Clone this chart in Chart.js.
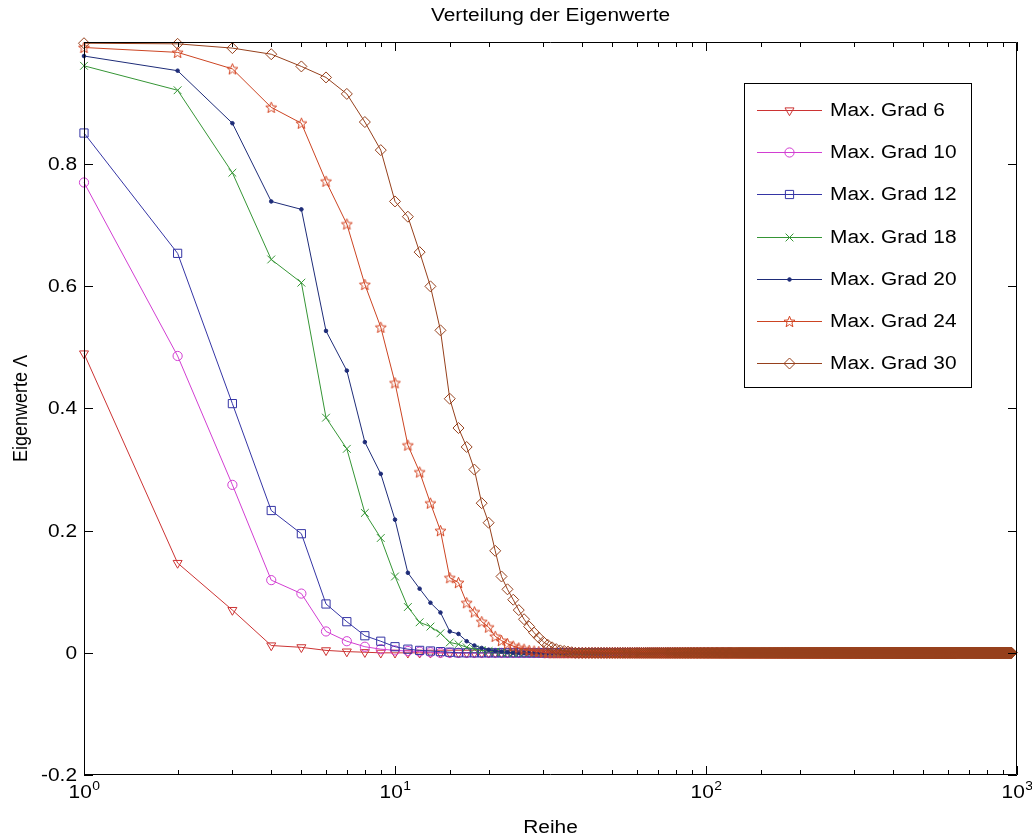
<!DOCTYPE html>
<html>
<head>
<meta charset="utf-8">
<script src="https://cdn.jsdelivr.net/npm/chart.js@4/dist/chart.umd.min.js"></script>
<style>
  html, body { margin: 0; padding: 0; background: #fff; }
  #wrap { width: 1032px; height: 837px; }
</style>
</head>
<body>
<div id="wrap"><canvas id="chart" width="1032" height="837"></canvas></div>
<script>
// Maximalgrad der Entwicklung und Anzahl der Eigenwerte je Kurve
const grad = [6, 10, 12, 18, 20, 24, 30];
const anzahl = [49, 121, 169, 361, 441, 625, 961];

const werte_6  = [0.490, 0.147, 0.070, 0.012, 0.009, 0.004, 0.002, 0.001];
const werte_10 = [0.770, 0.486, 0.275, 0.119, 0.097, 0.035, 0.019, 0.010, 0.006, 0.004, 0.003, 0.002, 0.001];
const werte_12 = [0.851, 0.654, 0.408, 0.233, 0.195, 0.080, 0.051, 0.028, 0.019, 0.010, 0.006, 0.004, 0.003, 0.002, 0.001];
const werte_18 = [0.961, 0.921, 0.786, 0.644, 0.606, 0.385, 0.334, 0.229, 0.188, 0.125, 0.075, 0.050, 0.043, 0.032,
                  0.017, 0.014, 0.009, 0.006, 0.004, 0.003, 0.002, 0.001];
const werte_20 = [0.977, 0.953, 0.867, 0.739, 0.726, 0.527, 0.462, 0.345, 0.293, 0.218, 0.131, 0.105, 0.082, 0.066,
                  0.035, 0.031, 0.019, 0.012, 0.008, 0.005, 0.003, 0.002, 0.001];
const werte_24 = [0.991, 0.983, 0.956, 0.893, 0.867, 0.772, 0.702, 0.603, 0.533, 0.442, 0.340, 0.296, 0.245, 0.200,
                  0.123, 0.115, 0.082, 0.067, 0.051, 0.042, 0.027, 0.020, 0.015, 0.011, 0.008, 0.006, 0.004, 0.003,
                  0.002, 0.001];
const werte_30 = [0.998, 0.997, 0.990, 0.980, 0.960, 0.942, 0.915, 0.869, 0.823, 0.739, 0.714, 0.656, 0.600, 0.528,
                  0.416, 0.368, 0.337, 0.300, 0.245, 0.213, 0.167, 0.125, 0.104, 0.087, 0.070, 0.055, 0.043, 0.033,
                  0.025, 0.018, 0.013, 0.009, 0.006, 0.004, 0.003, 0.002, 0.001];

const yTicks = [-0.2, 0, 0.2, 0.4, 0.6, 0.8];
const yTickLabels = ['-0.2', '0', '0.2', '0.4', '0.6', '0.8'];
const xMajor = [1, 10, 100, 1000];

const FONT = "'Liberation Sans', Arial, sans-serif";
const SX = 1.16;   // Schrift im Original etwas breit gezogen

function makeStar(color)
{
    var c = document.createElement('canvas');
    c.width = 13; c.height = 13;
    var g = c.getContext('2d');
    g.strokeStyle = color;
    g.lineWidth = 1;
    g.beginPath();
    for (let i = 0; i < 10; i++) {
        let r = (i % 2) ? 2.5 : 5.8;
        let a = -Math.PI / 2 + i * Math.PI / 5;
        let px = 6.5 + r * Math.cos(a), py = 7 + r * Math.sin(a);
        if (i === 0) g.moveTo(px, py); else g.lineTo(px, py);
    }
    g.closePath();
    g.stroke();
    return c;
}

const styles = [
    { color: '#cc3333', pointStyle: 'triangle', radius: 5.2, rotation: 180, fill: 'rgba(0,0,0,0)' },
    { color: '#d23ed2', pointStyle: 'circle', radius: 4.6, rotation: 0, fill: 'rgba(0,0,0,0)' },
    { color: '#3535a5', pointStyle: 'rect', radius: 5.8, rotation: 0, fill: 'rgba(0,0,0,0)' },
    { color: '#359535', pointStyle: 'crossRot', radius: 5.5, rotation: 0, fill: 'rgba(0,0,0,0)' },
    { color: '#1e2c78', pointStyle: 'circle', radius: 1.8, rotation: 0, fill: '#1e2c78' },
    { color: '#cc4422', pointStyle: makeStar('#d44422'), radius: 6, rotation: 0, fill: 'rgba(0,0,0,0)' },
    { color: '#96401c', pointStyle: 'rectRot', radius: 5.5, rotation: 0, fill: 'rgba(0,0,0,0)' }
];

const alleWerte = [werte_6, werte_10, werte_12, werte_18, werte_20, werte_24, werte_30];

function build_series(werte, n)
{
    var pts = [];
    for (let i = 0; i < n; i++) {
        pts.push({ x: i + 1, y: i < werte.length ? werte[i] : 0 });
    }
    return pts;
}

var datasets = [];
for (let k = 0; k < grad.length; k++) {
    let s = styles[k];
    datasets.push({
        label: 'Max. Grad ' + grad[k],
        data: build_series(alleWerte[k], anzahl[k]),
        borderColor: s.color,
        borderWidth: 1,
        pointStyle: s.pointStyle,
        pointRadius: s.radius,
        pointRotation: s.rotation,
        pointBorderColor: s.color,
        pointBackgroundColor: s.fill,
        pointBorderWidth: 1,
        fill: false,
        tension: 0,
        clip: false,
        order: grad.length - k
    });
}

// breit gezogener Text
function sText(ctx, text, x, y, size, align)
{
    ctx.save();
    ctx.font = size + 'px ' + FONT;
    let w = ctx.measureText(text).width * SX;
    let x0 = x;
    if (align === 'center') x0 = x - w / 2;
    else if (align === 'right') x0 = x - w;
    ctx.translate(x0, y);
    ctx.scale(SX, 1);
    ctx.textAlign = 'left';
    ctx.fillText(text, 0, 0);
    ctx.restore();
    return w;
}

// Rahmen, Ticks nach innen, Beschriftung, Titel, Legende
const matlabFrame = {
    id: 'matlabFrame',
    afterDatasetsDraw(chart) {
        const ctx = chart.ctx;
        const a = chart.chartArea;
        const xs = chart.scales.x, ys = chart.scales.y;
        ctx.save();
        ctx.strokeStyle = '#000';
        ctx.lineWidth = 1;
        ctx.beginPath();
        ctx.rect(Math.round(a.left) + 0.5, Math.round(a.top) + 0.5,
                 Math.round(a.right - a.left) - 1, Math.round(a.bottom - a.top) - 1);
        ctx.stroke();

        // x ticks (log)
        ctx.beginPath();
        xs.ticks.forEach(t => {
            let v = t.value;
            let major = xMajor.indexOf(v) >= 0;
            let len = major ? 9 : 5;
            let px = Math.round(xs.getPixelForValue(v)) + 0.5;
            ctx.moveTo(px, a.bottom); ctx.lineTo(px, a.bottom - len);
            ctx.moveTo(px, a.top); ctx.lineTo(px, a.top + len);
        });
        // y ticks
        yTicks.forEach(v => {
            let py = Math.round(ys.getPixelForValue(v)) + 0.5;
            ctx.moveTo(a.left, py); ctx.lineTo(a.left + 9, py);
            ctx.moveTo(a.right, py); ctx.lineTo(a.right - 9, py);
        });
        ctx.stroke();

        ctx.fillStyle = '#000';

        // y labels
        ctx.textBaseline = 'middle';
        yTicks.forEach((v, i) => {
            sText(ctx, yTickLabels[i], a.left - 7, ys.getPixelForValue(v) + 1, 18, 'right');
        });

        // x labels 10^n
        ctx.textBaseline = 'alphabetic';
        xMajor.forEach(v => {
            let px = xs.getPixelForValue(v);
            let expo = String(Math.round(Math.log10(v)));
            ctx.font = '18px ' + FONT;
            let w1 = ctx.measureText('10').width * SX;
            ctx.font = '12px ' + FONT;
            let w2 = ctx.measureText(expo).width * SX;
            let x0 = px - (w1 + w2) / 2;
            sText(ctx, '10', x0, 798, 18, 'left');
            sText(ctx, expo, x0 + w1 + 0.5, 790, 12, 'left');
        });

        // Achsentitel
        sText(ctx, 'Reihe', (a.left + a.right) / 2, 833, 18, 'center');
        ctx.textBaseline = 'middle';
        sText(ctx, 'Verteilung der Eigenwerte', (a.left + a.right) / 2, 16, 18, 'center');
        ctx.save();
        ctx.translate(21, (a.top + a.bottom) / 2);
        ctx.rotate(-Math.PI / 2);
        ctx.scale(1, SX);
        ctx.font = '18px ' + FONT;
        ctx.textAlign = 'center';
        ctx.fillText('Eigenwerte \u039B', 0, 0);
        ctx.restore();

        // Legende
        const lx = 744, ly = 83, lw = 228, lh = 305;
        ctx.fillStyle = '#fff';
        ctx.fillRect(lx, ly, lw, lh);
        ctx.strokeStyle = '#000';
        ctx.strokeRect(lx + 0.5, ly + 0.5, lw - 1, lh - 1);
        for (let k = 0; k < grad.length; k++) {
            let s = styles[k];
            let ey = Math.round(110 + k * 42.2) + 0.5;
            ctx.strokeStyle = s.color;
            ctx.lineWidth = 1;
            ctx.beginPath();
            ctx.moveTo(757, ey); ctx.lineTo(822, ey);
            ctx.stroke();
            ctx.fillStyle = s.fill;
            Chart.helpers.drawPoint(ctx, {
                pointStyle: s.pointStyle, radius: s.radius, rotation: s.rotation, borderWidth: 1
            }, 789.5, ey);
            ctx.fillStyle = '#000';
            ctx.textBaseline = 'middle';
            sText(ctx, 'Max. Grad ' + grad[k], 830, ey + 1, 18, 'left');
        }
        ctx.restore();
    }
};

new Chart(document.getElementById('chart'), {
    type: 'line',
    data: { datasets: datasets },
    options: {
        responsive: false,
        animation: false,
        events: [],
        layout: { padding: { left: 0, right: 15, top: 42, bottom: 0 } },
        plugins: {
            legend: { display: false },
            tooltip: { enabled: false },
            title: { display: false }
        },
        scales: {
            x: {
                type: 'logarithmic',
                min: 1,
                max: 1000,
                ticks: { display: false },
                grid: { display: false, drawTicks: false },
                border: { display: false },
                afterFit: function (scale) { scale.height = 62; }
            },
            y: {
                type: 'linear',
                min: -0.2,
                max: 1,
                ticks: { display: false, stepSize: 0.2 },
                grid: { display: false, drawTicks: false },
                border: { display: false },
                afterFit: function (scale) { scale.width = 84; }
            }
        }
    },
    plugins: [matlabFrame]
});
</script>
</body>
</html>
